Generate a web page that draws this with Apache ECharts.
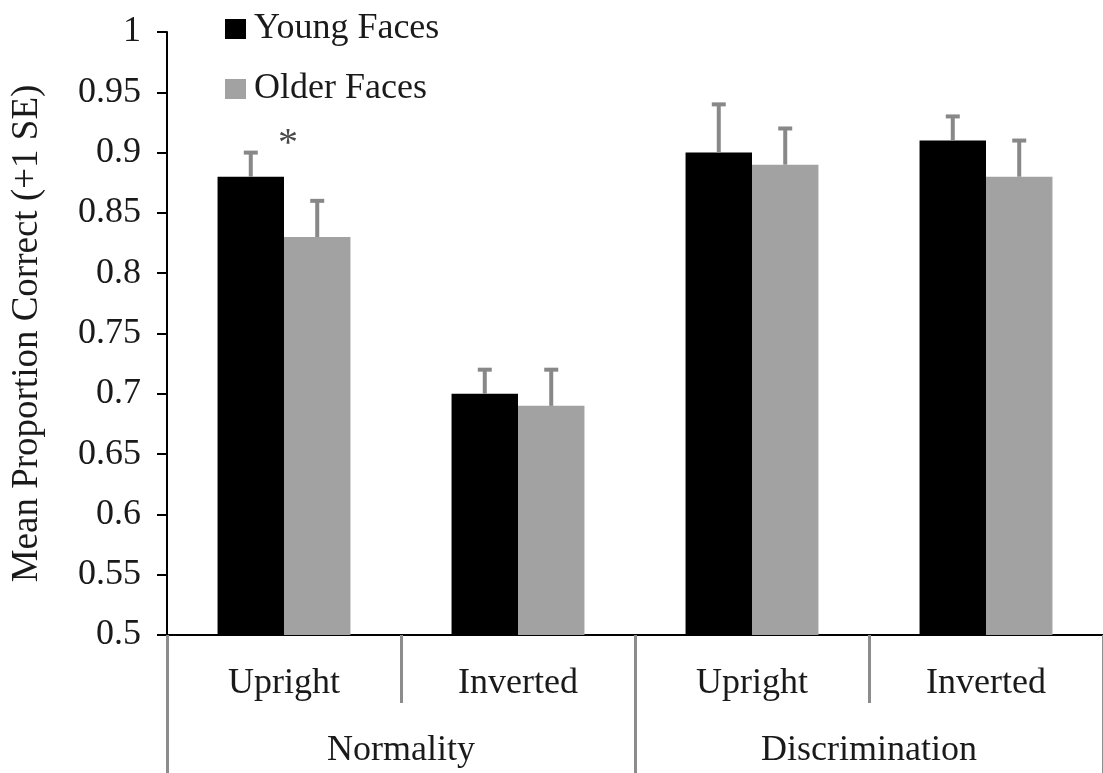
<!DOCTYPE html>
<html>
<head>
<meta charset="utf-8">
<script src="https://cdn.jsdelivr.net/npm/echarts@6/dist/echarts.min.js"></script>
<style>
  html, body { margin: 0; padding: 0; background: #fff; }
  #chart { width: 1103px; height: 773px; }
</style>
</head>
<body>
<div id="chart"></div>
<script>
  // conditions and task groups
  var conditions = ['Upright', 'Inverted', 'Upright', 'Inverted'];
  var tasks = ['Normality', 'Discrimination'];
  // mean proportion correct
  var youngMeans = [0.88, 0.70, 0.90, 0.91];
  var olderMeans = [0.83, 0.69, 0.89, 0.88];
  // +1 SE
  var youngSE = [0.02, 0.02, 0.04, 0.02];
  var olderSE = [0.03, 0.03, 0.03, 0.03];
  // significance marker
  var starAt = [[0, 0.907]];

  var font = 'Liberation Serif';
  var txt = '#1a1a1a';
  var barFrac = 0.284;

  function errData(means, se) {
    return means.map(function (m, i) { return [i, m, +(m + se[i]).toFixed(3)]; });
  }
  function errRenderer(side) {
    return function (params, api) {
      var i = api.value(0);
      var base = api.coord([i, api.value(1)]);
      var top = api.coord([i, api.value(2)]);
      var band = api.size([1, 0])[0];
      var x = base[0] + side * band * barFrac / 2;
      var st = { stroke: '#888', lineWidth: 4 };
      return {
        type: 'group',
        children: [
          { type: 'line', shape: { x1: x, y1: base[1], x2: x, y2: top[1] }, style: st },
          { type: 'line', shape: { x1: x - 7, y1: top[1], x2: x + 7, y2: top[1] }, style: st }
        ]
      };
    };
  }

  var myChart = echarts.init(document.getElementById('chart'));
  var option = {
    animation: false,
    textStyle: { fontFamily: font },
    grid: { left: 167, right: -12, top: 32, bottom: 138 },
    legend: {
      data: ['Young Faces', 'Older Faces'],
      orient: 'vertical',
      left: 220,
      top: 6,
      icon: 'rect',
      itemWidth: 21,
      itemHeight: 20,
      itemGap: 24,
      textStyle: { fontFamily: font, fontSize: 36, color: txt, padding: [0, 0, 0, 3] }
    },
    xAxis: [{
      type: 'category',
      data: conditions,
      axisLine: { lineStyle: { color: '#000', width: 2 } },
      axisTick: { show: true, interval: 0, length: 68, lineStyle: { color: '#8c8c8c', width: 3 } },
      axisLabel: { fontFamily: font, fontSize: 36, color: txt, margin: 31 }
    }, {
      type: 'category',
      data: tasks,
      position: 'bottom',
      axisLine: { show: false },
      axisTick: { show: true, interval: 0, length: 160, lineStyle: { color: '#8c8c8c', width: 3 } },
      axisLabel: { fontFamily: font, fontSize: 36, color: txt, margin: 98 }
    }],
    yAxis: {
      type: 'value',
      min: 0.5,
      max: 1,
      interval: 0.05,
      name: 'Mean Proportion Correct (+1 SE)',
      nameLocation: 'middle',
      nameGap: 121,
      nameTextStyle: { fontFamily: font, fontSize: 37, color: txt },
      splitLine: { show: false },
      axisLine: { show: true, lineStyle: { color: '#000', width: 2 } },
      axisTick: { show: true, length: 10, lineStyle: { color: '#000', width: 2 } },
      axisLabel: {
        fontFamily: font, fontSize: 36, color: txt, margin: 26,
        formatter: function (v) { return String(parseFloat(v.toFixed(2))); }
      }
    },
    series: [{
      name: 'Young Faces',
      type: 'bar',
      data: youngMeans,
      barWidth: (barFrac * 100) + '%',
      barGap: '0%',
      itemStyle: { color: '#000' }
    }, {
      name: 'Older Faces',
      type: 'bar',
      data: olderMeans,
      barWidth: (barFrac * 100) + '%',
      itemStyle: { color: '#a2a2a2' }
    }, {
      type: 'custom',
      data: errData(youngMeans, youngSE),
      encode: { x: 0, y: [1, 2] },
      renderItem: errRenderer(-1),
      z: 5
    }, {
      type: 'custom',
      data: errData(olderMeans, olderSE),
      encode: { x: 0, y: [1, 2] },
      renderItem: errRenderer(1),
      z: 5
    }, {
      type: 'scatter',
      data: starAt,
      symbolSize: 0,
      label: {
        show: true, position: 'inside', formatter: '*', offset: [4, 0],
        fontFamily: font, fontSize: 40, color: txt
      }
    }]
  };
  myChart.setOption(option);
  window.addEventListener('resize', function () { myChart.resize(); });
</script>
</body>
</html>
